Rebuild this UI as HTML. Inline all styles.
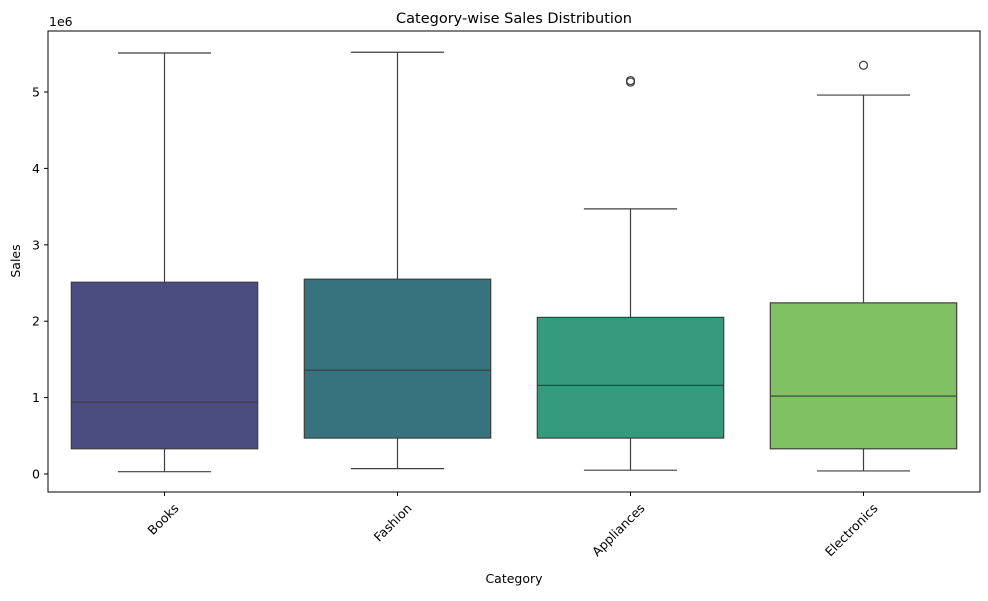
<!DOCTYPE html>
<html><head><meta charset="utf-8"><style>
body{margin:0;background:#fff;font-family:"Liberation Sans","DejaVu Sans",sans-serif;}
svg text{font-family:"DejaVu Sans","Liberation Sans",sans-serif;}
</style></head><body>
<svg id="chart" width="988" height="596" viewBox="0 0 988 596"></svg>
<script>
const categories=["Books","Fashion","Appliances","Electronics"];
const whiskerLow=[0.03,0.07,0.05,0.04];
const q1=[0.33,0.47,0.47,0.33];
const medians=[0.94,1.36,1.16,1.02];
const q3=[2.51,2.55,2.05,2.24];
const whiskerHigh=[5.51,5.52,3.47,4.96];
const outliers=[[],[],[5.15,5.13],[5.35]];
const yTicks=[0,1,2,3,4,5];
const colors=["#4b4d81","#37737f","#35997c","#80c163"];

const svg=document.getElementById('chart');
const NS='http://www.w3.org/2000/svg';
const L=48,R=980,T=31,B=492;
function y(v){return 474-v*76.4;}
function x(i){return L+(R-L)*(i+0.5)/categories.length;}
const bw=(R-L)/categories.length*0.8;
function mk(tag,attrs,name,parent){const e=document.createElementNS(NS,tag);for(const k in attrs)e.setAttribute(k,attrs[k]);


(parent||svg).appendChild(e);return e;}
function txt(s,attrs,name){const e=mk('text',attrs,name);e.textContent=s;return e;}

txt('Category-wise Sales Distribution',{x:514,y:23,'text-anchor':'middle','font-size':14.5},'chart-title');
yTicks.forEach(t=>{
  mk('line',{x1:L-4,x2:L,y1:y(t),y2:y(t),stroke:'#000'},'y-tick');
  txt(String(t),{x:L-8,y:y(t)+4.5,'text-anchor':'end','font-size':12.5},'y-tick-label');
});
txt('1e6',{x:L+1,y:T-5,'font-size':12.5},'y-axis-offset');
txt('Sales',{x:20,y:261,'text-anchor':'middle','font-size':12.5,transform:'rotate(-90 20 261)'},'y-axis-title');
txt('Category',{x:514,y:583,'text-anchor':'middle','font-size':12.5},'x-axis-title');

categories.forEach((c,i)=>{
  const cx=x(i),g=mk('g',{},'box-'+c.toLowerCase());
  mk('line',{x1:cx,x2:cx,y1:y(whiskerLow[i]),y2:y(q1[i]),stroke:'#3f3f3f','stroke-width':1.2},'whisker-low',g);
  mk('line',{x1:cx,x2:cx,y1:y(q3[i]),y2:y(whiskerHigh[i]),stroke:'#3f3f3f','stroke-width':1.2},'whisker-high',g);
  mk('line',{x1:cx-bw/4,x2:cx+bw/4,y1:y(whiskerLow[i]),y2:y(whiskerLow[i]),stroke:'#3f3f3f','stroke-width':1.2},'cap-low',g);
  mk('line',{x1:cx-bw/4,x2:cx+bw/4,y1:y(whiskerHigh[i]),y2:y(whiskerHigh[i]),stroke:'#3f3f3f','stroke-width':1.2},'cap-high',g);
  mk('rect',{x:cx-bw/2,y:y(q3[i]),width:bw,height:y(q1[i])-y(q3[i]),fill:colors[i],stroke:'#3f3f3f','stroke-width':1.2},'iqr-box',g);
  mk('line',{x1:cx-bw/2,x2:cx+bw/2,y1:y(medians[i]),y2:y(medians[i]),stroke:'#3f3f3f','stroke-width':1.2},'median-line',g);
  outliers[i].forEach(o=>mk('circle',{cx:cx,cy:y(o),r:4,fill:'none',stroke:'#3f3f3f','stroke-width':1.2},'outlier',g));
  mk('line',{x1:cx,x2:cx,y1:B,y2:B+4,stroke:'#000'},'x-tick');
  const lx=cx+15,ly=B+17;
  txt(c,{x:lx,y:ly,'text-anchor':'end','font-size':12.5,transform:`rotate(-45 ${lx} ${ly})`},'x-tick-label');
});
mk('rect',{x:L,y:T,width:R-L,height:B-T,fill:'none',stroke:'#000','stroke-width':1},'plot-frame');
</script>
</body></html>
